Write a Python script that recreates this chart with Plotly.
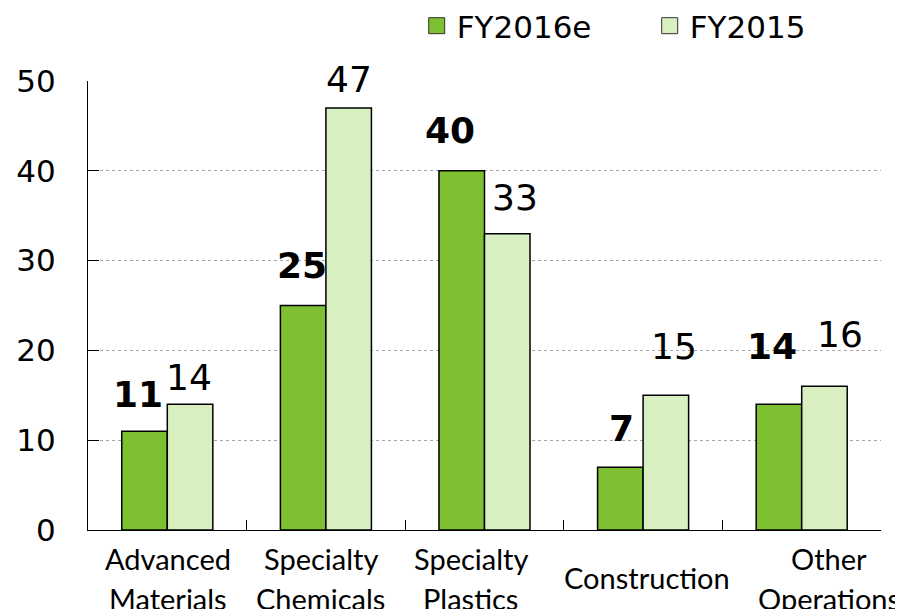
import plotly.graph_objects as go

categories = ["Advanced Materials", "Specialty Chemicals", "Specialty Plastics", "Construction", "Other Operations"]
category_lines = [["Advanced", "Materials"], ["Specialty", "Chemicals"], ["Specialty", "Plastics"], ["Construction"], ["Other", "Operations"]]
fy2016e = [11, 25, 40, 7, 14]
fy2015 = [14, 47, 33, 15, 16]
y_ticks = [0, 10, 20, 30, 40, 50]

# label placement offsets (pixels), styling only
cat_label_dx = [1, -5, -14, 4, 27]
lbl_dx_2016 = [-29, -24, -35, -22, -30]
lbl_dy_2016 = [37, 40, 40, 39, 58]
lbl_dx_2015 = [22, 23, 30, 31, 38]
lbl_dy_2015 = [27, 28, 36, 49, 52]

GREEN = "rgb(125,192,50)"
LIGHT = "rgb(216,239,194)"
NUMFONT = "DejaVu Sans, Verdana, sans-serif"

fig = go.Figure()
fig.add_trace(go.Bar(name="FY2016e", x=categories, y=fy2016e, marker=dict(color=GREEN, line=dict(color="black", width=1.5)), showlegend=False))
fig.add_trace(go.Bar(name="FY2015", x=categories, y=fy2015, marker=dict(color=LIGHT, line=dict(color="black", width=1.5)), showlegend=False))

# legend entries
fig.add_trace(go.Scatter(name="FY2016e", x=[None], y=[None], mode="markers",
                         marker=dict(symbol="square", size=16, color=GREEN, line=dict(color="#333", width=1))))
fig.add_trace(go.Scatter(name="FY2015", x=[None], y=[None], mode="markers",
                         marker=dict(symbol="square", size=16, color=LIGHT, line=dict(color="#333", width=1))))

annotations = []
for i, c in enumerate(categories):
    annotations.append(dict(x=c, y=fy2016e[i], xref="x", yref="y", text=f"<b>{fy2016e[i]}</b>",
                            showarrow=False, xanchor="center", yanchor="middle",
                            xshift=lbl_dx_2016[i], yshift=lbl_dy_2016[i],
                            font=dict(family=NUMFONT, size=36, color="black")))
    annotations.append(dict(x=c, y=fy2015[i], xref="x", yref="y", text=f"{fy2015[i]}",
                            showarrow=False, xanchor="center", yanchor="middle",
                            xshift=lbl_dx_2015[i], yshift=lbl_dy_2015[i],
                            font=dict(family=NUMFONT, size=36, color="black")))
    lines = category_lines[i]
    shifts = [-28, -68] if len(lines) == 2 else [-47]
    for line, ys in zip(lines, shifts):
        annotations.append(dict(x=c, y=0, xref="x", yref="y", text=line,
                                showarrow=False, xanchor="center", yanchor="middle",
                                xshift=cat_label_dx[i], yshift=ys,
                                font=dict(family="Lato, sans-serif", size=29, color="black")))

fig.update_layout(
    width=903, height=609,
    margin=dict(l=80, r=30, t=73, b=87, autoexpand=False),
    paper_bgcolor="white", plot_bgcolor="white",
    barmode="group", bargap=0.426, bargroupgap=0,
    showlegend=True,
    legend=dict(orientation="h", xref="container", yref="container", x=0.4526, xanchor="left",
                y=0.9704, yanchor="middle",
                font=dict(family=NUMFONT, size=31, color="black"),
                entrywidth=188, entrywidthmode="pixels", bgcolor="rgba(0,0,0,0)"),
    annotations=annotations,
    xaxis=dict(range=[-0.5, len(categories) - 0.5], autorange=False,
               showline=True, linecolor="black", linewidth=1.2, ticks="inside", ticklen=10,
               tickcolor="black", tickwidth=1.2, tickson="boundaries", showticklabels=False,
               showgrid=False, zeroline=False, automargin=False),
    yaxis=dict(range=[0, 50], autorange=False, tickvals=y_ticks, showline=True, linecolor="black", linewidth=1.2,
               ticks="inside", ticklen=11, tickcolor="black", tickwidth=1.2,
               showgrid=True, gridcolor="#A6A6A6", gridwidth=1, griddash="dot", zeroline=False,
               tickfont=dict(family=NUMFONT, size=31, color="black"), ticklabelstandoff=25,
               automargin=False),
)

fig.write_html("out.html")
